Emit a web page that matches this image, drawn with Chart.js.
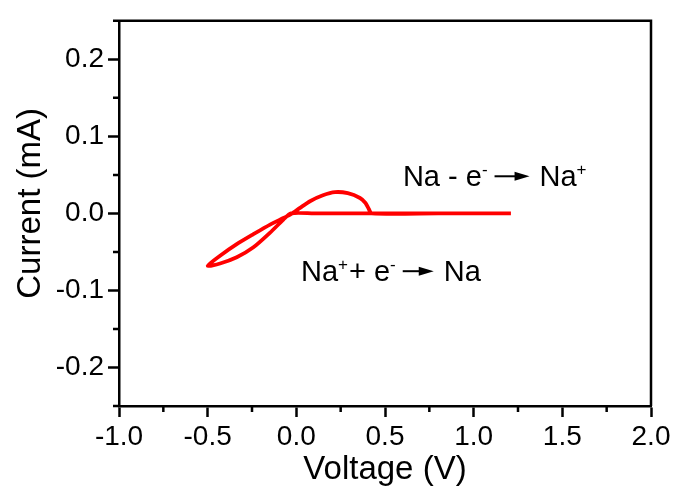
<!DOCTYPE html>
<html>
<head>
<meta charset="utf-8">
<title>Na plating / stripping CV</title>
<script src="https://cdn.jsdelivr.net/npm/chart.js@4.4.0/dist/chart.umd.min.js"></script>
<style>
  html, body { margin: 0; padding: 0; background: #fff; }
</style>
</head>
<body>
<canvas id="cv" width="675" height="492"></canvas>
<script>
// one CV cycle: 1.2 V -> -0.5 V (plating) -> back up (stripping peak) -> 1.2 V
const voltage = [1.21, 0.8, 0.4, 0.1, -0.03,
                 -0.073, -0.148, -0.242, -0.336, -0.43, -0.5,
                 -0.43, -0.336, -0.242, -0.148, -0.073, -0.03,
                 0.021, 0.077, 0.15, 0.218, 0.29, 0.359, 0.39, 0.408, 0.425, 0.8, 1.21];
const current = [0, 0, 0, 0, 0,
                 -0.008, -0.025, -0.044, -0.057, -0.065, -0.068,
                 -0.055, -0.040, -0.027, -0.0145, -0.006, -0.001,
                 0.0072, 0.0158, 0.0235, 0.0276, 0.0262, 0.020, 0.0135, 0.006, 0, 0, 0];

const xMajor = [-1.0, -0.5, 0.0, 0.5, 1.0, 1.5, 2.0];
const xMinor = [-0.75, -0.25, 0.25, 0.75, 1.25, 1.75];
const yMajor = [-0.2, -0.1, 0.0, 0.1, 0.2];
const yMinor = [-0.25, -0.15, -0.05, 0.05, 0.15, 0.25];

const xTitle = 'Voltage (V)';
const yTitle = 'Current (mA)';

const points = voltage.map((v, i) => ({ x: v, y: current[i] }));

const FAMILY = 'Arial, "Liberation Sans", sans-serif';
Chart.defaults.font.family = FAMILY;
Chart.defaults.color = '#000';

const AXIS_W = 2.5;

// closes the box on top/right, adds the short minor ticks and the y title
const frame = {
  id: 'frame',
  afterDatasetsDraw(chart) {
    const { ctx, chartArea: a, scales: { x, y } } = chart;
    ctx.save();
    ctx.strokeStyle = '#000';
    ctx.lineWidth = AXIS_W;
    ctx.beginPath();
    ctx.moveTo(a.left, a.top);
    ctx.lineTo(a.right, a.top);
    ctx.lineTo(a.right, a.bottom);
    ctx.stroke();

    ctx.beginPath();
    xMinor.forEach(v => {
      const px = x.getPixelForValue(v);
      ctx.moveTo(px, a.bottom);
      ctx.lineTo(px, a.bottom + 6);
    });
    yMinor.forEach(v => {
      const py = y.getPixelForValue(v);
      ctx.moveTo(a.left, py);
      ctx.lineTo(a.left - 6, py);
    });
    ctx.stroke();

    // y title sits a little above the axis centre
    ctx.translate(31, y.getPixelForValue(0.013));
    ctx.rotate(-Math.PI / 2);
    ctx.font = '33px ' + FAMILY;
    ctx.fillStyle = '#000';
    ctx.textAlign = 'center';
    ctx.textBaseline = 'middle';
    ctx.fillText(yTitle, 0, 0);
    ctx.restore();
  }
};

// reaction labels with superscripts and a filled arrow
const reactions = [
  { x: 0.601, y: 0.0352, arrow: 35, parts: [['Na - e', 0], ['-', 1], ['>', 0], ['Na', 0], ['+', 1]] },
  { x: 0.026, y: -0.088, arrow: 31, parts: [['Na', 0], ['+', 1], ['+ e', 0], ['-', 1], ['>', 0], ['Na', 0]] }
];

const labels = {
  id: 'labels',
  afterDraw(chart) {
    const { ctx, scales: { x, y } } = chart;
    ctx.save();
    ctx.fillStyle = '#000';
    ctx.strokeStyle = '#000';
    ctx.textBaseline = 'alphabetic';
    ctx.textAlign = 'left';
    reactions.forEach(r => {
      let px = x.getPixelForValue(r.x);
      const base = y.getPixelForValue(r.y);
      r.parts.forEach(([txt, sup]) => {
        if (txt === '>') {
          const ay = base - 10;
          const x0 = px + 6, x1 = x0 + r.arrow;
          ctx.lineWidth = 2;
          ctx.beginPath();
          ctx.moveTo(x0, ay);
          ctx.lineTo(x1 - 12, ay);
          ctx.stroke();
          ctx.beginPath();
          ctx.moveTo(x1, ay);
          ctx.lineTo(x1 - 15, ay - 4.5);
          ctx.lineTo(x1 - 15, ay + 4.5);
          ctx.closePath();
          ctx.fill();
          px = x1 + 10;
          return;
        }
        ctx.font = (sup ? '17px ' : '29px ') + FAMILY;
        ctx.fillText(txt, px, sup ? base - 11 : base);
        px += ctx.measureText(txt).width + (sup ? 1 : 0);
      });
    });
    ctx.restore();
  }
};

new Chart(document.getElementById('cv'), {
  type: 'scatter',
  data: {
    datasets: [{
      data: points,
      showLine: true,
      borderColor: '#ff0000',
      borderWidth: 3.8,
      pointRadius: 0,
      tension: 0.25,
      fill: false
    }]
  },
  options: {
    responsive: false,
    animation: false,
    devicePixelRatio: 1,
    layout: { padding: { left: 0, right: 24, top: 15, bottom: 0 } },
    plugins: { legend: { display: false }, tooltip: { enabled: false } },
    scales: {
      x: {
        type: 'linear',
        min: -1, max: 2,
        afterBuildTicks: s => { s.ticks = xMajor.map(v => ({ value: v })); },
        afterFit: s => { s.height = 86; },
        ticks: { font: { size: 28 }, padding: 3, maxRotation: 0, autoSkip: false,
                 callback: v => v.toFixed(1) },
        grid: { drawOnChartArea: false, tickLength: 11, tickWidth: AXIS_W, tickColor: '#000' },
        border: { color: '#000', width: AXIS_W },
        title: { display: true, text: xTitle, font: { size: 33 }, padding: { top: 0, bottom: 2 } }
      },
      y: {
        type: 'linear',
        min: -0.25, max: 0.25,
        afterBuildTicks: s => { s.ticks = yMajor.map(v => ({ value: v })); },
        afterFit: s => { s.width = 119; },
        ticks: { font: { size: 28 }, padding: 4, autoSkip: false,
                 callback: v => v.toFixed(1) },
        grid: { drawOnChartArea: false, tickLength: 11, tickWidth: AXIS_W, tickColor: '#000' },
        border: { color: '#000', width: AXIS_W }
      }
    }
  },
  plugins: [frame, labels]
});
</script>
</body>
</html>
